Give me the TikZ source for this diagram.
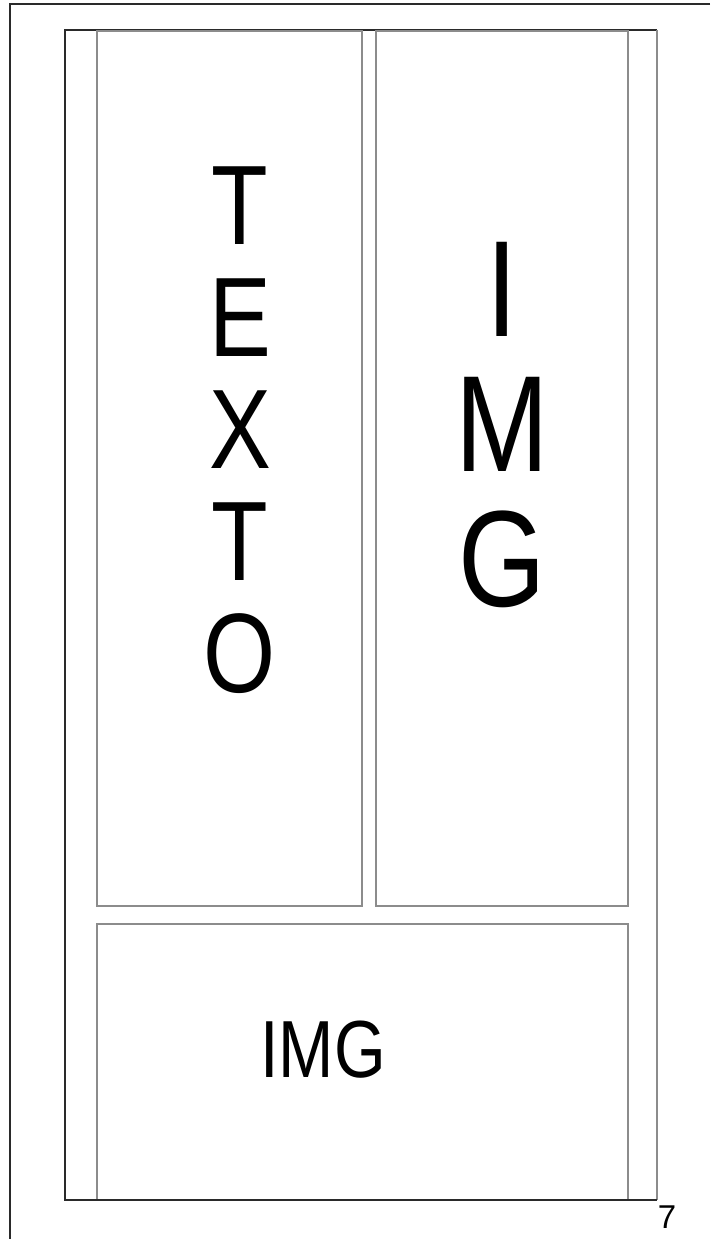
\documentclass[tikz,border=0pt]{standalone}
\usepackage{fontspec}
\setmainfont{Liberation Sans}
\newfontfamily\narrowsans[FakeStretch=0.82]{Liberation Sans}
\definecolor{framegray}{HTML}{2A2A2A}
\definecolor{boxgray}{HTML}{8C8C8C}
\begin{document}
\begin{tikzpicture}[x=1pt,y=-1pt,
  pageline/.style={draw=framegray, line width=1.6pt},
  framebox/.style={inner sep=0pt, outer sep=0pt},
  frameline/.style={draw=framegray, line width=1.6pt},
  panel/.style={draw=boxgray, line width=1.8pt, inner sep=0pt, outer sep=0pt},
  bigtext/.style={inner sep=0pt, outer sep=0pt, text=black, align=center}]
\useasboundingbox (0,0) rectangle (710,1239);
% page border (top and left edges)
\coordinate (pgTR) at (710,4);
\coordinate (pgTL) at (10,4);
\coordinate (pgBL) at (10,1239);
\draw[pageline] (pgTR) -- (pgTL) -- (pgBL);
% layout frame
\node[framebox, minimum width=592pt, minimum height=1170pt] (frame) at (361,615) {};
\draw[frameline] (frame.north east) -- (frame.north west) -- (frame.south west) -- (frame.south east);
\draw[draw=boxgray, line width=1.8pt] (frame.south east) -- (frame.north east);
% panels
\node[panel, minimum width=265pt, minimum height=875pt] (textobox) at (229.5,468.5) {};
\node[panel, minimum width=252pt, minimum height=875pt] (imgbox) at (502,468.5) {};
\node[panel, minimum width=531pt, minimum height=276pt] (imgwide) at (362.5,1062) {};
\draw[frameline] (frame.south west) -- (frame.south east);
% texts
\node[bigtext, font=\narrowsans\fontsize{113}{112}\selectfont, anchor=north] (texto) at (240,167) {T\\E\\X\\T\\O};
\node[bigtext, font=\narrowsans\fontsize{137}{135}\selectfont, anchor=north] (img) at (502,242) {I\\M\\G};
\node[bigtext, font=\narrowsans\fontsize{81}{81}\selectfont, anchor=base] (imgbottom) at (323,1077) {IMG};
\node[bigtext, font=\fontsize{33}{33}\selectfont, anchor=base] (pagenum) at (667,1228) {7};
\end{tikzpicture}
\end{document}
